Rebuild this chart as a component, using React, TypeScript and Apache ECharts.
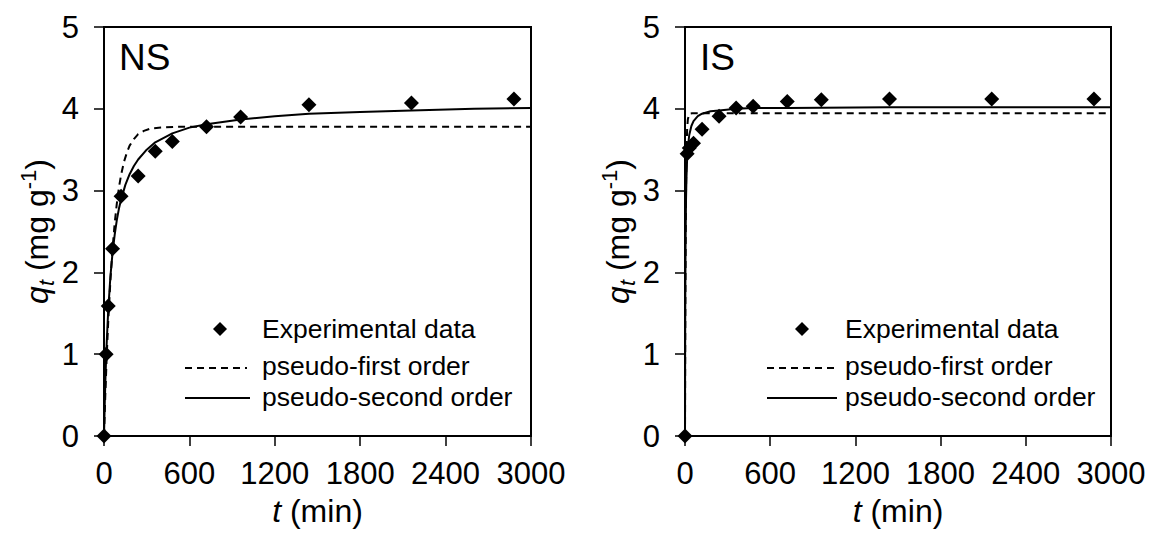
import React, { useEffect, useRef } from "react";
import * as echarts from "echarts";

const FONT = '"Liberation Sans", Arial, Helvetica, sans-serif';

// Tick values
const xTicks = [0, 600, 1200, 1800, 2400, 3000];
const yTicks = [0, 1, 2, 3, 4, 5];

// NS panel
const nsTime = [0, 15, 30, 60, 120, 240, 360, 480, 720, 960, 1440, 2160, 2880];
const nsExp = [0, 1.0, 1.59, 2.29, 2.93, 3.18, 3.48, 3.6, 3.78, 3.9, 4.05, 4.07, 4.12];
const nsPfoT = [0, 5, 10, 20, 30, 45, 60, 75, 90, 105, 120, 140, 160, 180, 210, 240, 280, 330, 400, 500, 700, 3000];
const nsPfoQ = [0, 0.28, 0.54, 1.01, 1.41, 1.9, 2.29, 2.6, 2.84, 3.04, 3.19, 3.35, 3.46, 3.55, 3.63, 3.69, 3.73, 3.76, 3.77, 3.78, 3.78, 3.78];
const nsPsoT = [0, 5, 10, 15, 20, 30, 45, 60, 75, 90, 105, 120, 150, 180, 210, 240, 300, 360, 480, 600, 720, 960, 1200, 1440, 1800, 2160, 2600, 3000];
const nsPsoQ = [0, 0.38, 0.69, 0.96, 1.18, 1.55, 1.95, 2.24, 2.46, 2.64, 2.78, 2.89, 3.07, 3.2, 3.3, 3.38, 3.5, 3.59, 3.7, 3.77, 3.81, 3.87, 3.91, 3.94, 3.96, 3.98, 4.0, 4.01];

// IS panel
const isTime = [0, 15, 30, 60, 120, 240, 360, 480, 720, 960, 1440, 2160, 2880];
const isExp = [0, 3.45, 3.52, 3.58, 3.75, 3.91, 4.01, 4.03, 4.09, 4.11, 4.12, 4.12, 4.12];
const isPfoT = [0, 1, 2, 3, 5, 7, 10, 15, 20, 30, 50, 3000];
const isPfoQ = [0, 0.72, 1.3, 1.78, 2.49, 2.97, 3.41, 3.75, 3.87, 3.94, 3.945, 3.945];
const isPsoT = [0, 1, 2, 4, 7, 10, 15, 20, 30, 45, 60, 90, 120, 180, 240, 360, 480, 720, 1440, 3000];
const isPsoQ = [0, 1.06, 1.67, 2.36, 2.87, 3.14, 3.39, 3.53, 3.68, 3.79, 3.85, 3.91, 3.94, 3.97, 3.98, 4.0, 4.01, 4.01, 4.02, 4.02];

const zip = (a: number[], b: number[]) => a.map((v, i) => [v, b[i]]);

const tickStyle = { fontSize: 31, color: "#000", fontFamily: FONT };
const nameStyle = { fontSize: 32, color: "#000", fontFamily: FONT };

function xAxis(gridIndex: number) {
  return {
    type: "value",
    gridIndex,
    min: xTicks[0],
    max: xTicks[xTicks.length - 1],
    interval: 600,
    axisLine: { show: true, onZero: false, lineStyle: { color: "#000", width: 2 } },
    axisTick: { show: true, inside: false, length: 10, lineStyle: { color: "#000", width: 1.5 } },
    axisLabel: { ...tickStyle, margin: 22, formatter: (v: number) => String(v) },
    splitLine: { show: false },
    name: "{i|t} (min)",
    nameLocation: "middle",
    nameGap: 59,
    nameTextStyle: {
      ...nameStyle,
      rich: { i: { ...nameStyle, fontStyle: "italic" } },
    },
  };
}

function yAxis(gridIndex: number) {
  return {
    type: "value",
    gridIndex,
    min: yTicks[0],
    max: yTicks[yTicks.length - 1],
    interval: 1,
    axisLine: { show: true, onZero: false, lineStyle: { color: "#000", width: 2 } },
    axisTick: { show: true, inside: false, length: 10, lineStyle: { color: "#000", width: 1.5 } },
    axisLabel: { ...tickStyle, margin: 25, formatter: (v: number) => String(v) },
    splitLine: { show: false },
    name: "{q|q}{s|t}{n| (mg g}{p|-1}{n|)}",
    nameLocation: "middle",
    nameGap: 47,
    nameTextStyle: {
      ...nameStyle,
      rich: {
        q: { ...nameStyle, fontStyle: "italic", lineHeight: 40 },
        s: { fontSize: 22, color: "#000", fontFamily: FONT, fontStyle: "italic", verticalAlign: "bottom", lineHeight: 22 },
        n: { ...nameStyle, lineHeight: 40 },
        p: { fontSize: 22, color: "#000", fontFamily: FONT, verticalAlign: "top", lineHeight: 22 },
      },
    },
  };
}

function series(ix: number, t: number[], exp: number[], pT: number[], pQ: number[], sT: number[], sQ: number[]) {
  return [
    {
      type: "line",
      xAxisIndex: ix,
      yAxisIndex: ix,
      data: zip(pT, pQ),
      showSymbol: false,
      symbol: "none",
      lineStyle: { color: "#000", width: 2, type: [7, 5] },
      z: 2,
    },
    {
      type: "line",
      xAxisIndex: ix,
      yAxisIndex: ix,
      data: zip(sT, sQ),
      showSymbol: false,
      symbol: "none",
      lineStyle: { color: "#000", width: 2 },
      z: 2,
    },
    {
      type: "scatter",
      xAxisIndex: ix,
      yAxisIndex: ix,
      data: zip(t, exp),
      symbol: "diamond",
      symbolSize: 15,
      itemStyle: { color: "#000", opacity: 1 },
      z: 3,
    },
  ];
}

function legend(diamondX: number, lineX1: number, lineX2: number, textX: number) {
  const t = (text: string, y: number) => ({
    type: "text",
    x: textX,
    y,
    style: { text, fontSize: 26.5, fontFamily: FONT, fill: "#000", align: "left", verticalAlign: "middle" },
  });
  const d = 7;
  const cy = 329;
  return [
    {
      type: "polygon",
      shape: { points: [[diamondX, cy - d], [diamondX + d, cy], [diamondX, cy + d], [diamondX - d, cy]] },
      style: { fill: "#000" },
    },
    t("Experimental data", 329),
    {
      type: "line",
      shape: { x1: lineX1, y1: 368, x2: lineX2, y2: 368 },
      style: { stroke: "#000", lineWidth: 2, lineDash: [7, 5] },
    },
    t("pseudo-first order", 366),
    {
      type: "line",
      shape: { x1: lineX1, y1: 398, x2: lineX2 + 3, y2: 398 },
      style: { stroke: "#000", lineWidth: 2 },
    },
    t("pseudo-second order", 397),
  ];
}

export default function App() {
  const ref = useRef<HTMLDivElement>(null);
  useEffect(() => {
    if (!ref.current) return;
    const chart = echarts.init(ref.current, undefined, { renderer: "svg" });
    const gridCommon = { top: 27, height: 409, show: true, borderColor: "#000", borderWidth: 2, backgroundColor: "transparent" };
    chart.setOption({
      animation: false,
      backgroundColor: "#fff",
      grid: [
        { ...gridCommon, left: 104, width: 427 },
        { ...gridCommon, left: 685, width: 426 },
      ],
      xAxis: [xAxis(0), xAxis(1)],
      yAxis: [yAxis(0), yAxis(1)],
      series: [
        ...series(0, nsTime, nsExp, nsPfoT, nsPfoQ, nsPsoT, nsPsoQ),
        ...series(1, isTime, isExp, isPfoT, isPfoQ, isPsoT, isPsoQ),
      ],
      graphic: [
        { type: "text", x: 119, y: 57, style: { text: "NS", fontSize: 37, fontFamily: FONT, fill: "#000", verticalAlign: "middle" } },
        { type: "text", x: 700, y: 57, style: { text: "IS", fontSize: 37, fontFamily: FONT, fill: "#000", verticalAlign: "middle" } },
        ...legend(220, 185, 247, 262),
        ...legend(802, 767, 834, 845),
      ],
    });
    return () => chart.dispose();
  }, []);
  return <div ref={ref} style={{ position: "absolute", left: 0, top: 0, width: 1149, height: 534 }} />;
}
